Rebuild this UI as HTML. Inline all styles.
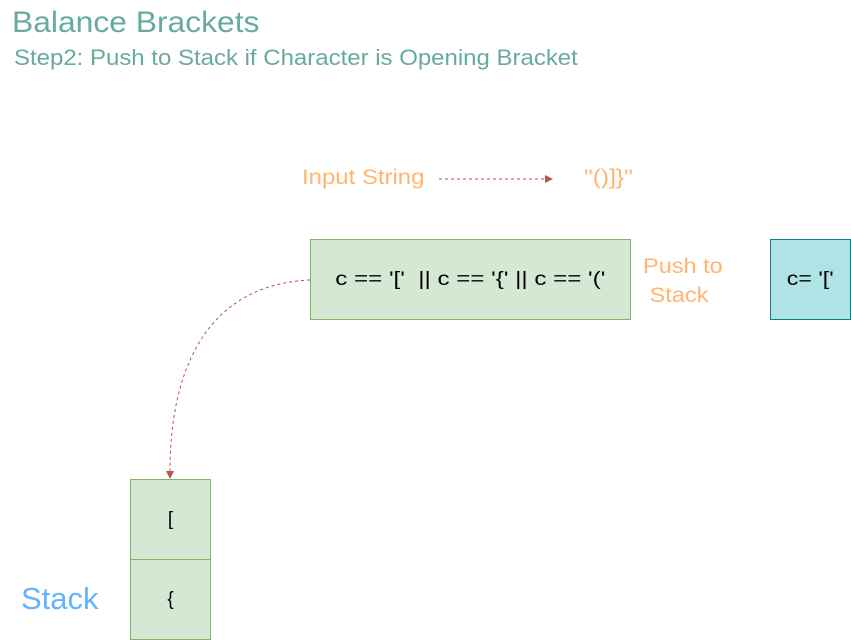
<!DOCTYPE html>
<html><head><style>
body{margin:0;width:851px;height:640px;background:#fff;position:relative;overflow:hidden;font-family:"Liberation Sans",sans-serif}
.t{position:absolute;white-space:nowrap;transform-origin:0 0}
.b{position:absolute;box-sizing:border-box;border:1px solid #82b366;background:#d5e8d4;display:flex;align-items:center;justify-content:center;font-size:19px;color:#000}
.b span{display:inline-block}
</style></head><body>
<div class="t" style="left:12px;top:6px;font-size:30px;color:#67AB9F;transform:scaleX(1.06)">Balance Brackets</div>
<div class="t" style="left:14px;top:45px;font-size:22px;color:#67AB9F;transform:scaleX(1.09)">Step2: Push to Stack if Character is Opening Bracket</div>
<div class="t" style="left:302px;top:166px;font-size:21px;color:#FFB570;transform:scaleX(1.14)">Input String</div>
<div class="t" style="left:584px;top:166px;font-size:21px;color:#FFB570;transform:scaleX(1.17)">"()]}"</div>
<div class="t" style="left:643px;top:252px;font-size:21px;color:#FFB570;line-height:29px;transform:scaleX(1.12)">Push to<br>&nbsp;Stack</div>
<div class="b" style="left:310px;top:239px;width:321px;height:81px"><span style="transform:scaleX(1.27)">c == '['&nbsp; || c == '{' || c == '('</span></div>
<div class="b" style="left:770px;top:239px;width:81px;height:81px;background:#b0e3e6;border-color:#0e8088"><span style="transform:scaleX(1.22)">c= '['</span></div>
<div class="b" style="left:130px;top:479px;width:81px;height:81px">[</div>
<div class="b" style="left:130px;top:559px;width:81px;height:81px">{</div>
<div class="t" style="left:21px;top:581px;font-size:31px;color:#66B2FF">Stack</div>
<svg width="851" height="640" style="position:absolute;left:0;top:0">
<line x1="439" y1="179" x2="546" y2="179" stroke="#b85450" stroke-dasharray="3,3"/>
<polygon points="553,179 545,175 545,183" fill="#b85450"/>
<path d="M310,280 C200,285 170,380 170,471" fill="none" stroke="#b85450" stroke-dasharray="3,3"/>
<polygon points="170,479 166,471 174,471" fill="#b85450"/>
</svg>
</body></html>
